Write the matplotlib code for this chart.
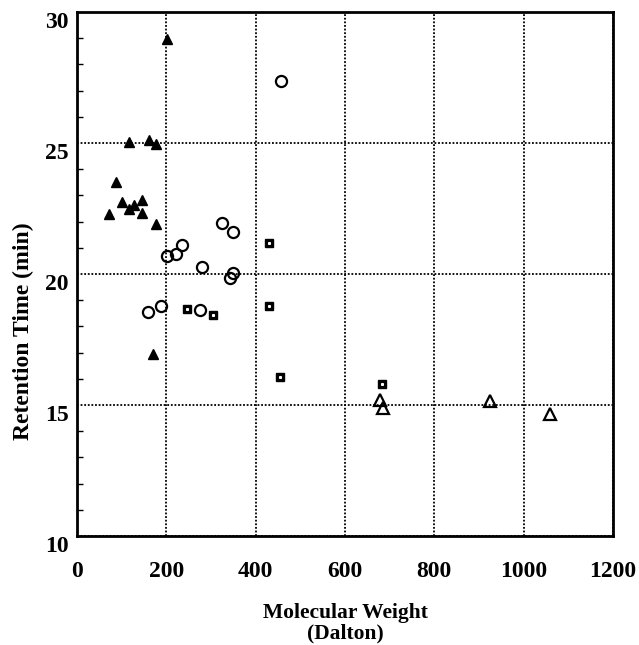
import numpy as np
from matplotlib import pyplot as plt
from matplotlib.ticker import MultipleLocator
from matplotlib.transforms import ScaledTranslation

# filled triangles
tri_mw = [202, 117, 162, 177, 87, 72, 101, 117, 128, 146, 146, 177, 170]
tri_rt = [28.96, 25.05, 25.12, 24.96, 23.51, 22.30, 22.74, 22.49, 22.65, 22.83, 22.32, 21.91, 16.93]

# open circles
circ_mw = [160, 188, 201, 222, 234, 279, 324, 349, 343, 349, 275, 456]
circ_rt = [18.55, 18.77, 20.69, 20.78, 21.12, 20.28, 21.95, 21.60, 19.83, 20.03, 18.62, 27.38]

# filled squares
sq_mw = [247, 305, 429, 429, 454, 682]
sq_rt = [18.68, 18.42, 21.19, 18.77, 16.08, 15.80]

# open triangles
otri_mw = [678, 686, 925, 1060]
otri_rt = [15.18, 14.90, 15.14, 14.67]

plt.rcParams['font.family'] = ['Liberation Serif', 'DejaVu Serif']
plt.rcParams['font.weight'] = 'bold'

fig = plt.figure(figsize=(6.39, 6.45), dpi=100)
ax = fig.add_axes([0.1205, 0.169, 0.8388, 0.8124])

ax.plot(tri_mw, tri_rt, '^', color='black', markersize=7.5, linestyle='none')
ax.plot(circ_mw, circ_rt, 'o', markerfacecolor='none', markeredgecolor='black',
        markersize=8, markeredgewidth=1.6, linestyle='none')
ax.plot(sq_mw, sq_rt, 's', color='black', markersize=6, linestyle='none')
ax.plot(sq_mw, sq_rt, 's', color='white', markersize=1.2, linestyle='none')
ax.plot(otri_mw, otri_rt, '^', markerfacecolor='none', markeredgecolor='black',
        markersize=9, markeredgewidth=1.6, linestyle='none')

ax.set_xlim(0, 1200)
ax.set_ylim(10, 30)
ax.set_xticks([0, 200, 400, 600, 800, 1000, 1200])
ax.set_yticks([10, 15, 20, 25, 30])
ax.yaxis.set_minor_locator(MultipleLocator(1))
ax.grid(True, which='major', color='black', linestyle=(0, (1, 1)), linewidth=1.3)
ax.set_axisbelow(True)

for s in ax.spines.values():
    s.set_linewidth(2)
ax.tick_params(axis='both', which='major', direction='in', length=0, labelsize=17, pad=18)
ax.tick_params(axis='y', which='major', pad=6)
ax.tick_params(axis='y', which='minor', direction='in', length=4, width=1)

# y tick labels sit a little below their ticks in the original
off = ScaledTranslation(0, -6 / 72, fig.dpi_scale_trans)
for lab in ax.get_yticklabels():
    lab.set_transform(lab.get_transform() + off)

ax.set_xlabel("Molecular Weight\n(Dalton)", fontsize=15.5, fontweight='bold', linespacing=1.0)
ax.xaxis.set_label_coords(0.5, -0.128)
ax.set_ylabel("Retention Time (min)", fontsize=17, fontweight='bold')
ax.yaxis.set_label_coords(-0.081, 0.39)

fig.savefig("out.png", dpi=100)
